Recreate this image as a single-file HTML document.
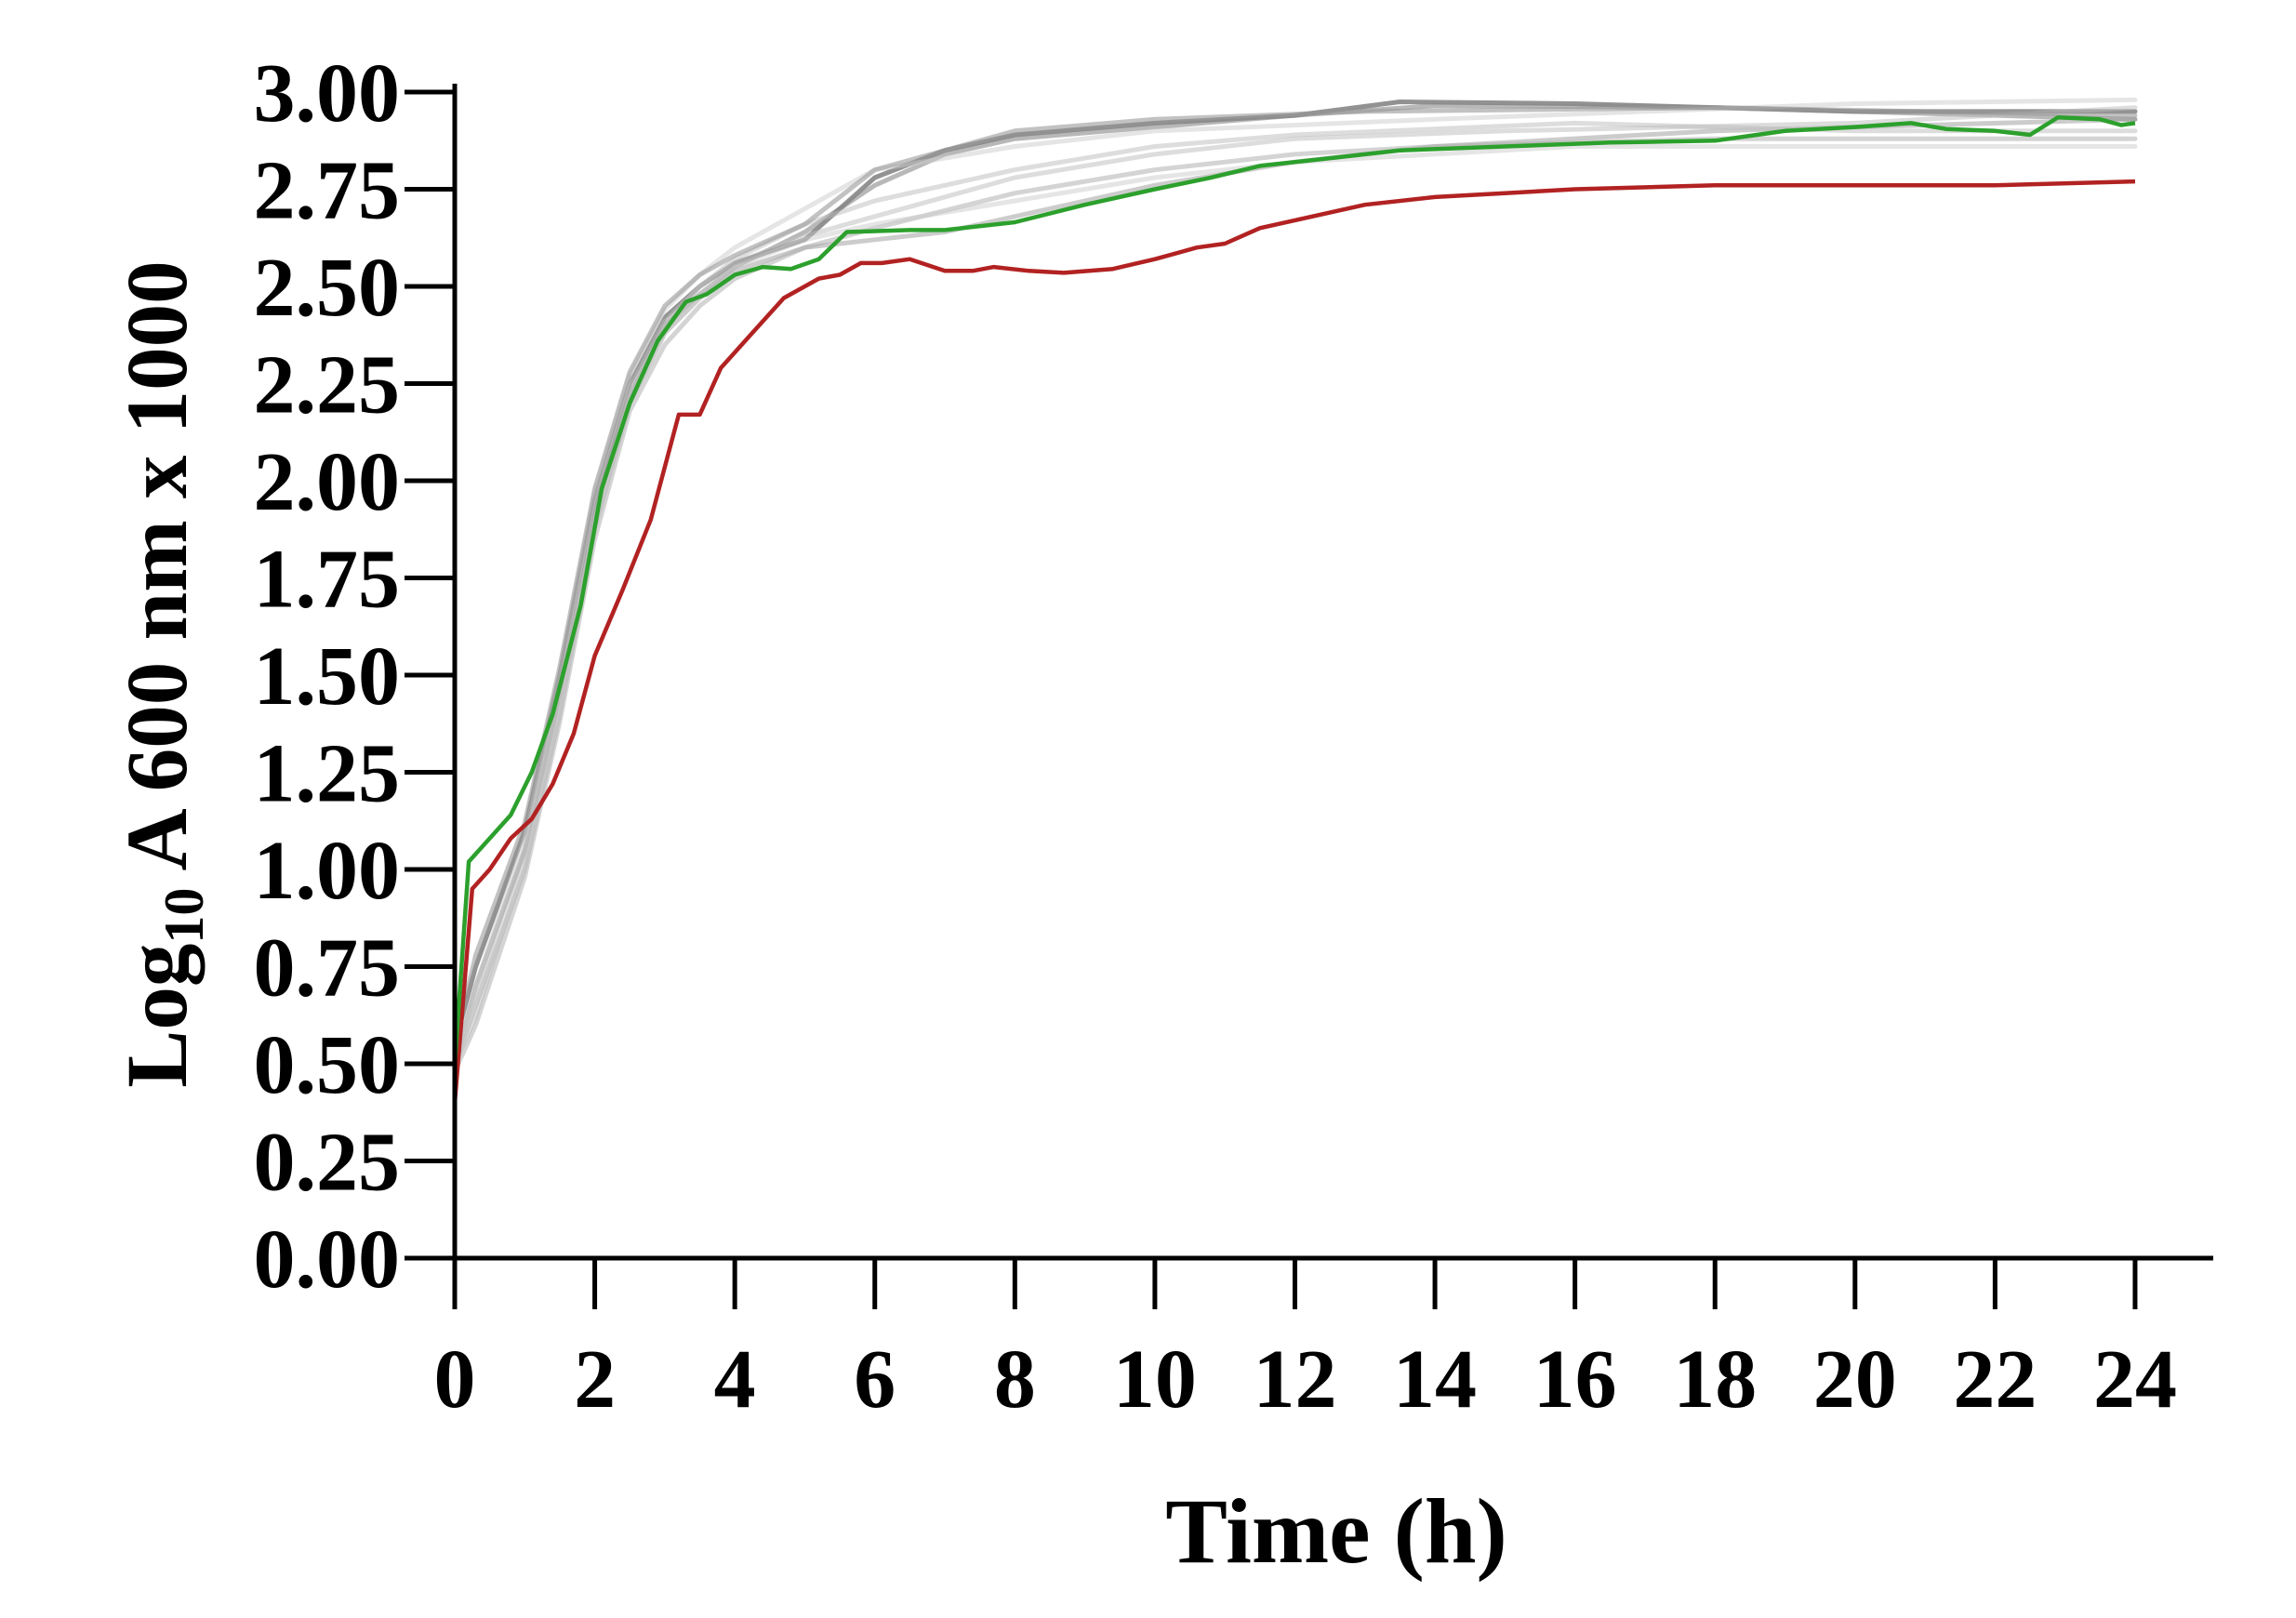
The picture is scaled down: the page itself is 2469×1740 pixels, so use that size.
<!DOCTYPE html>
<html><head><meta charset="utf-8"><style>
html,body{margin:0;padding:0;background:#fff;}
svg{display:block;}
text{font-family:"Liberation Serif",serif;font-weight:bold;fill:#000;}
</style></head><body>
<svg id="s" width="2469" height="1740" viewBox="0 0 2469 1740" xmlns="http://www.w3.org/2000/svg">
<g id="gray" fill="none" stroke-linejoin="round" stroke-linecap="round"></g>
<g id="col" fill="none" stroke-linejoin="round" stroke-width="4.5"></g>
<g id="axes" stroke="#000" stroke-width="5" fill="none"></g>
<g id="labels"></g>
<text x="1437" y="1680" font-size="100" text-anchor="middle">Time (h)</text>
<text transform="translate(200,725) rotate(-90)" font-size="93" text-anchor="middle">Log<tspan font-size="60" dy="18">10</tspan><tspan dy="-18"> A 600 nm x 1000</tspan></text>
</svg>
<script>
var X=function(t){return 489+75.29*t}, Y=function(v){return 1353-418*v};
var NS="http://www.w3.org/2000/svg";
function el(p,tag,a){var e=document.createElementNS(NS,tag);for(var k in a)e.setAttribute(k,a[k]);p.appendChild(e);return e;}
function path(pts){return pts.map(function(p,i){return (i?"L":"M")+X(p[0]).toFixed(1)+","+Y(p[1]).toFixed(1)}).join("")}
var ax=document.getElementById("axes"),lb=document.getElementById("labels");
el(ax,"line",{x1:489,y1:90,x2:489,y2:1408});
el(ax,"line",{x1:435,y1:1353,x2:2380,y2:1353});
for(var i=0;i<=12;i++){var y=Y(i*0.25);el(ax,"line",{x1:435,y1:y,x2:489,y2:y});
 var t=el(lb,"text",{x:430,y:y+31,"font-size":90,"text-anchor":"end"});t.textContent=(i*0.25).toFixed(2);}
for(var i=0;i<=12;i++){var x=X(i*2);el(ax,"line",{x1:x,y1:1353,x2:x,y2:1408});
 var t=el(lb,"text",{x:x,y:1513,"font-size":90,"text-anchor":"middle"});t.textContent=i*2;}
var g=document.getElementById("gray");
var grays=[
 {c:"#777",o:0.8,p:[[0,0.55],[0.3,0.75],[1,1.1],[1.5,1.5],[2,1.95],[2.5,2.25],[3,2.42],[3.5,2.5],[4,2.56],[5,2.62],[6,2.78],[7,2.85],[8,2.89],[10,2.92],[12,2.94],[13.5,2.975],[16,2.97],[20,2.95],[24,2.95]]},
 {c:"#888",o:0.6,p:[[0,0.5],[0.3,0.7],[1,1.05],[1.5,1.45],[2,1.92],[2.5,2.22],[3,2.4],[3.5,2.48],[4,2.55],[5,2.64],[6,2.76],[7,2.84],[8,2.88],[10,2.91],[12,2.94],[14,2.965],[18,2.96],[24,2.93]]},
 {c:"#999",o:0.5,p:[[0,0.5],[0.3,0.65],[1,1.0],[1.5,1.4],[2,1.88],[2.5,2.2],[3,2.38],[3.5,2.47],[4,2.54],[5,2.6],[6,2.62],[7,2.64],[8,2.68],[10,2.76],[12,2.82],[14,2.86],[18,2.9],[24,2.93]]},
 {c:"#aaa",o:0.5,p:[[0,0.48],[0.3,0.6],[1,0.98],[1.5,1.38],[2,1.85],[2.5,2.18],[3,2.35],[3.5,2.45],[4,2.52],[5,2.6],[6,2.65],[8,2.74],[10,2.8],[12,2.84],[14,2.86],[18,2.88],[24,2.88]]},
 {c:"#bbb",o:0.5,p:[[0,0.5],[0.3,0.62],[1,1.02],[1.5,1.42],[2,1.9],[2.5,2.22],[3,2.4],[3.5,2.5],[4,2.56],[5,2.63],[6,2.68],[8,2.78],[10,2.84],[12,2.88],[15,2.9],[20,2.92],[24,2.96]]},
 {c:"#bbb",o:0.5,p:[[0,0.52],[0.3,0.68],[1,1.05],[1.5,1.46],[2,1.93],[2.5,2.24],[3,2.41],[3.5,2.5],[4,2.57],[5,2.66],[6,2.72],[8,2.8],[10,2.86],[12,2.89],[16,2.92],[20,2.9],[24,2.9]]},
 {c:"#ccc",o:0.5,p:[[0,0.5],[0.3,0.66],[1,1.0],[1.5,1.4],[2,1.87],[2.5,2.2],[3,2.38],[3.5,2.48],[4,2.55],[5,2.62],[6,2.66],[8,2.72],[10,2.78],[12,2.82],[16,2.86],[24,2.86]]},
 {c:"#ccc",o:0.5,p:[[0,0.5],[0.3,0.7],[1,1.08],[1.5,1.5],[2,1.97],[2.5,2.27],[3,2.44],[3.5,2.53],[4,2.6],[5,2.7],[6,2.8],[8,2.86],[10,2.9],[14,2.93],[20,2.97],[24,2.98]]},
 {c:"#999",o:0.6,p:[[0,0.55],[0.3,0.78],[1,1.12],[1.5,1.52],[2,1.98],[2.5,2.28],[3,2.45],[3.5,2.53],[4,2.58],[5,2.66],[6,2.8],[8,2.9],[10,2.93],[13,2.95],[18,2.96],[24,2.94]]}
];
grays.forEach(function(s){el(g,"path",{d:path(s.p),stroke:s.c,"stroke-opacity":s.o,"stroke-width":5});});
var c=document.getElementById("col");
var red=[[0,0.4],[0.25,0.95],[0.5,1.0],[0.8,1.08],[1.1,1.13],[1.4,1.22],[1.7,1.35],[2,1.55],[2.4,1.72],[2.8,1.9],[3.2,2.17],[3.5,2.17],[3.8,2.29],[4.2,2.37],[4.7,2.47],[5.2,2.52],[5.5,2.53],[5.8,2.56],[6.1,2.56],[6.5,2.57],[7,2.54],[7.4,2.54],[7.7,2.55],[8.2,2.54],[8.7,2.535],[9.4,2.545],[10,2.57],[10.6,2.6],[11,2.61],[11.5,2.65],[12,2.67],[12.5,2.69],[13,2.71],[14,2.73],[15,2.74],[16,2.75],[18,2.76],[20,2.76],[22,2.76],[24,2.77]];
var green=[[0,0.5],[0.2,1.02],[0.5,1.08],[0.8,1.14],[1.1,1.25],[1.4,1.4],[1.8,1.68],[2.1,1.98],[2.5,2.2],[2.9,2.36],[3.3,2.46],[3.6,2.48],[4,2.53],[4.4,2.55],[4.8,2.545],[5.2,2.57],[5.6,2.64],[6.5,2.645],[7,2.645],[8,2.665],[9,2.71],[10,2.75],[10.8,2.78],[11.5,2.81],[12.5,2.83],[13.5,2.85],[15,2.86],[16.5,2.87],[18,2.875],[19,2.9],[20,2.91],[20.8,2.92],[21.3,2.905],[22,2.9],[22.5,2.89],[22.9,2.935],[23.5,2.93],[23.8,2.915],[24,2.92]];
el(c,"path",{d:path(red),stroke:"#b22222"});
el(c,"path",{d:path(green),stroke:"#2ca02c"});
</script>
</body></html>
